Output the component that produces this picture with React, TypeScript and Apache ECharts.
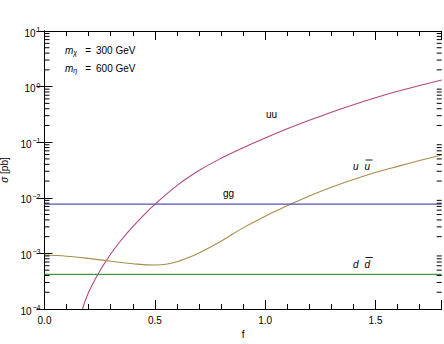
import React, { useEffect, useRef } from "react";
import * as echarts from "echarts";

// ---- data ----
const X_MIN = 0;
const X_MAX = 1.8;
const Y_MIN = 1e-4;
const Y_MAX = 10;

const uuF = [0.172, 0.2, 0.25, 0.3, 0.35, 0.4, 0.45, 0.5, 0.6, 0.7, 0.8, 0.9, 1.0, 1.1, 1.2, 1.3, 1.4, 1.5, 1.6, 1.7, 1.8];
const uuSigma = [1.0e-4, 2.0e-4, 4.79e-4, 9.77e-4, 1.78e-3, 3.02e-3, 4.9e-3, 7.59e-3, 1.66e-2, 3.09e-2, 5.13e-2, 7.94e-2, 0.119, 0.174, 0.248, 0.347, 0.473, 0.631, 0.822, 1.047, 1.318];

const uubarF = [0, 0.1, 0.2, 0.3, 0.4, 0.5, 0.55, 0.6, 0.65, 0.7, 0.8, 0.9, 1.0, 1.1, 1.2, 1.3, 1.4, 1.5, 1.6, 1.7, 1.8];
const uubarSigma = [9.33e-4, 8.91e-4, 8.13e-4, 7.24e-4, 6.53e-4, 6.17e-4, 6.38e-4, 7.08e-4, 8.32e-4, 1.02e-3, 1.66e-3, 2.88e-3, 4.68e-3, 7.16e-3, 1.08e-2, 1.55e-2, 2.14e-2, 2.85e-2, 3.67e-2, 4.68e-2, 5.89e-2];

const ggF = [0, 0.3, 0.6, 0.9, 1.2, 1.5, 1.8];
const ggSigma = [7.7e-3, 7.7e-3, 7.7e-3, 7.7e-3, 7.7e-3, 7.7e-3, 7.7e-3];

const ddbarF = [0, 0.3, 0.6, 0.9, 1.2, 1.5, 1.8];
const ddbarSigma = [4.2e-4, 4.2e-4, 4.2e-4, 4.2e-4, 4.2e-4, 4.2e-4, 4.2e-4];

const minorDecades = [1e-4, 1e-3, 1e-2, 1e-1, 1];
const minorMultipliers = [2, 3, 4, 5, 6, 7, 8, 9];

const FONT = "'Liberation Sans', Arial, Helvetica, sans-serif";

const zip = (xs: number[], ys: number[]) => xs.map((x, i) => [x, ys[i]]);

export default function App() {
  const ref = useRef<HTMLDivElement>(null);
  useEffect(() => {
    if (!ref.current) return;
    const chart = echarts.init(ref.current, undefined, { renderer: "svg" });

    const minorY: number[][] = [];
    minorDecades.forEach((d) => minorMultipliers.forEach((m) => minorY.push([X_MIN, d * m])));

    const supLabel = (v: number) => {
      const e = Math.round(Math.log10(v));
      const s = e < 0 ? "\u2212" + String(-e) : String(e);
      return "10{sup|" + s + "}";
    };

    const lineSeries = (name: string, data: number[][], color: string) => ({
      type: "line",
      name,
      data,
      showSymbol: false,
      smooth: 0.4,
      lineStyle: { color, width: 1.1 },
      silent: true,
      z: 2,
    });

    const annoRich = {
      m: { fontStyle: "italic", fontSize: 10, fontFamily: FONT, fill: "#000" },
      sub: { fontStyle: "italic", fontSize: 7, fontFamily: FONT, padding: [5, 0, 0, 0] },
      eq: { fontSize: 10, fontFamily: FONT, padding: [0, 5, 0, 8] },
    };

    const option: any = {
      animation: false,
      backgroundColor: "#ffffff",
      textStyle: { fontFamily: FONT },
      grid: { left: 44.5, right: 2.3, top: 31, bottom: 35, containLabel: false, outerBoundsMode: "none" },
      xAxis: [
        {
          type: "value",
          min: X_MIN,
          max: X_MAX,
          interval: 0.5,
          position: "bottom",
          name: "f",
          nameLocation: "middle",
          nameGap: 20,
          nameTextStyle: { fontSize: 10, color: "#000", fontFamily: FONT },
          axisLine: { show: true, lineStyle: { color: "#000", width: 1 } },
          axisTick: { show: true, inside: true, length: 9, lineStyle: { color: "#000" } },
          minorTick: { show: true, splitNumber: 5, length: 5, lineStyle: { color: "#000" } },
          axisLabel: {
            show: true,
            margin: 6,
            fontSize: 10,
            color: "#000",
            fontFamily: FONT,
            showMaxLabel: false,
            formatter: (v: number) => v.toFixed(1),
          },
          splitLine: { show: false },
        },
        {
          type: "value",
          min: X_MIN,
          max: X_MAX,
          interval: 0.5,
          position: "top",
          axisLine: { show: true, lineStyle: { color: "#000", width: 1 } },
          axisTick: { show: true, inside: true, length: 9, lineStyle: { color: "#000" } },
          minorTick: { show: true, splitNumber: 5, length: 5, lineStyle: { color: "#000" } },
          axisLabel: { show: false },
          splitLine: { show: false },
        },
      ],
      yAxis: [
        {
          type: "log",
          logBase: 10,
          min: Y_MIN,
          max: Y_MAX,
          position: "left",
          name: "{i|\u03c3} [pb]",
          nameLocation: "middle",
          nameGap: 27,
          nameRotate: 90,
          nameTextStyle: {
            fontSize: 10,
            color: "#000",
            fontFamily: FONT,
            rich: { i: { fontStyle: "italic", fontSize: 10, fontFamily: FONT, color: "#000" } },
          },
          axisLine: { show: true, lineStyle: { color: "#000", width: 1 } },
          axisTick: { show: true, inside: true, length: 8, lineStyle: { color: "#000" } },
          axisLabel: {
            show: true,
            margin: 4,
            fontSize: 10,
            color: "#000",
            fontFamily: FONT,
            padding: [4, 0, 0, 0],
            formatter: supLabel,
            rich: {
              sup: { fontSize: 7, padding: [0, 0, 7, 1], color: "#000", fontFamily: FONT },
            },
          },
          splitLine: { show: false },
        },
        {
          type: "log",
          logBase: 10,
          min: Y_MIN,
          max: Y_MAX,
          position: "right",
          axisLine: { show: true, lineStyle: { color: "#000", width: 1 } },
          axisTick: { show: true, inside: true, length: 8, lineStyle: { color: "#000" } },
          axisLabel: { show: false },
          splitLine: { show: false },
        },
      ],
      series: [
        lineSeries("uu", zip(uuF, uuSigma), "#b4457e"),
        lineSeries("uubar", zip(uubarF, uubarSigma), "#a48c4c"),
        lineSeries("gg", zip(ggF, ggSigma), "#5454b4"),
        lineSeries("ddbar", zip(ddbarF, ddbarSigma), "#3c9c4c"),
        {
          type: "custom",
          coordinateSystem: "cartesian2d",
          silent: true,
          z: 5,
          data: minorY,
          renderItem: (_params: any, api: any) => {
            const v = api.value(1);
            const p0 = api.coord([X_MIN, v]);
            const p1 = api.coord([X_MAX, v]);
            const st = { stroke: "#000", lineWidth: 1 };
            return {
              type: "group",
              children: [
                { type: "line", shape: { x1: p0[0], y1: p0[1], x2: p0[0] + 5, y2: p0[1] }, style: st },
                { type: "line", shape: { x1: p1[0], y1: p1[1], x2: p1[0] - 5, y2: p1[1] }, style: st },
              ],
            };
          },
        },
      ],
      graphic: [
        {
          type: "text",
          left: 65,
          top: 45,
          style: { text: "{m|m}{sub|\u03c7}{eq|=}300 GeV", font: "10px " + FONT, fill: "#000", rich: annoRich },
        },
        {
          type: "text",
          left: 65,
          top: 63,
          style: { text: "{m|m}{sub|\u03b7}{eq|=}600 GeV", font: "10px " + FONT, fill: "#000", rich: annoRich },
        },
        { type: "text", x: 271.5, y: 114.5, style: { text: "uu", font: "10px " + FONT, fill: "#000", align: "center", verticalAlign: "middle" } },
        { type: "text", x: 228.5, y: 193.5, style: { text: "gg", font: "10px " + FONT, fill: "#000", align: "center", verticalAlign: "middle" } },
        { type: "text", x: 353, y: 166, style: { text: "u", font: "italic 10px " + FONT, fill: "#000", align: "left", verticalAlign: "middle" } },
        { type: "text", x: 364.5, y: 166, style: { text: "u", font: "italic 10px " + FONT, fill: "#000", align: "left", verticalAlign: "middle" } },
        { type: "line", shape: { x1: 365.5, y1: 160, x2: 372.5, y2: 160 }, style: { stroke: "#000", lineWidth: 0.9 } },
        { type: "text", x: 353, y: 264.5, style: { text: "d", font: "italic 10px " + FONT, fill: "#000", align: "left", verticalAlign: "middle" } },
        { type: "text", x: 364.5, y: 264.5, style: { text: "d", font: "italic 10px " + FONT, fill: "#000", align: "left", verticalAlign: "middle" } },
        { type: "line", shape: { x1: 365.5, y1: 257.5, x2: 372.8, y2: 257.5 }, style: { stroke: "#000", lineWidth: 0.9 } },
      ],
    };

    chart.setOption(option);
    return () => chart.dispose();
  }, []);

  return (
    <div
      ref={ref}
      style={{ position: "fixed", left: 0, top: 0, width: 444, height: 344, background: "#fff" }}
    />
  );
}
